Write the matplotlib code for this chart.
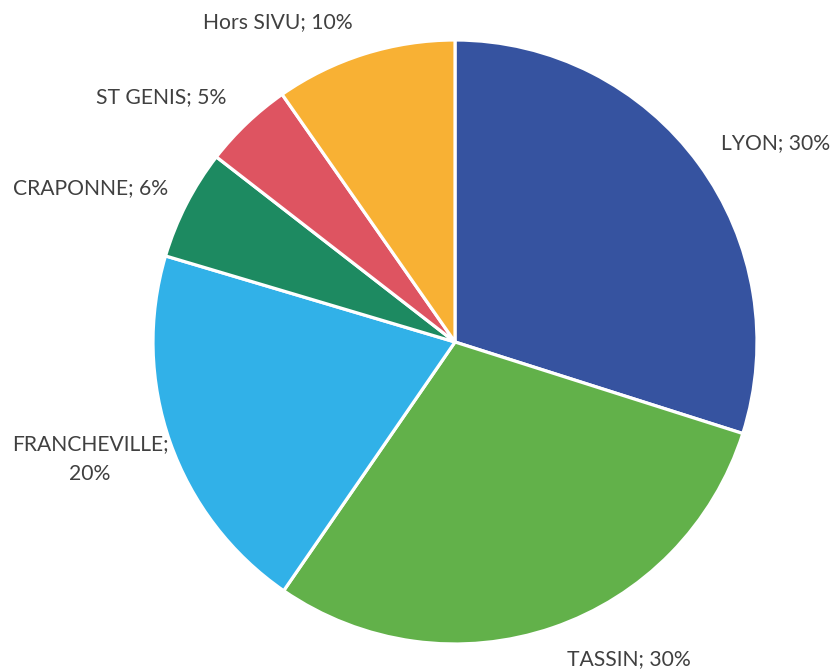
import matplotlib
matplotlib.use("Agg")
import matplotlib.pyplot as plt

categories = ["LYON", "TASSIN", "FRANCHEVILLE", "CRAPONNE", "ST GENIS", "Hors SIVU"]
values = [29.9, 29.7, 20.0, 5.9, 4.8, 9.7]
pct_labels = ["30%", "30%", "20%", "6%", "5%", "10%"]
colors = ["#3653A0", "#62B14A", "#31B1E8", "#1D8A61", "#DE5461", "#F8B134"]

W, H = 833, 670
fig = plt.figure(figsize=(W / 100, H / 100), dpi=100)
ax = fig.add_axes([0, 0, 1, 1])

cx, cy, r = 455, H - 342, 302
ax.pie(values, colors=colors, startangle=90, counterclock=False,
       center=(cx, cy), radius=r, frame=True,
       wedgeprops=dict(edgecolor="white", linewidth=2.3))
ax.set_xlim(0, W)
ax.set_ylim(0, H)
ax.set_aspect("equal")
ax.axis("off")

label_pos = [(776, 143), (629, 659), (90, 459), (91, 188), (161, 97), (278, 22)]
for cat, pct, (px, py) in zip(categories, pct_labels, label_pos):
    txt = f"{cat}; {pct}" if cat != "FRANCHEVILLE" else f"{cat};\n{pct}"
    ax.text(px, H - py, txt, ha="center", va="center", fontsize=15.2,
            family="Lato", color="#404040", linespacing=1.65)

fig.savefig("out.png", dpi=100)
